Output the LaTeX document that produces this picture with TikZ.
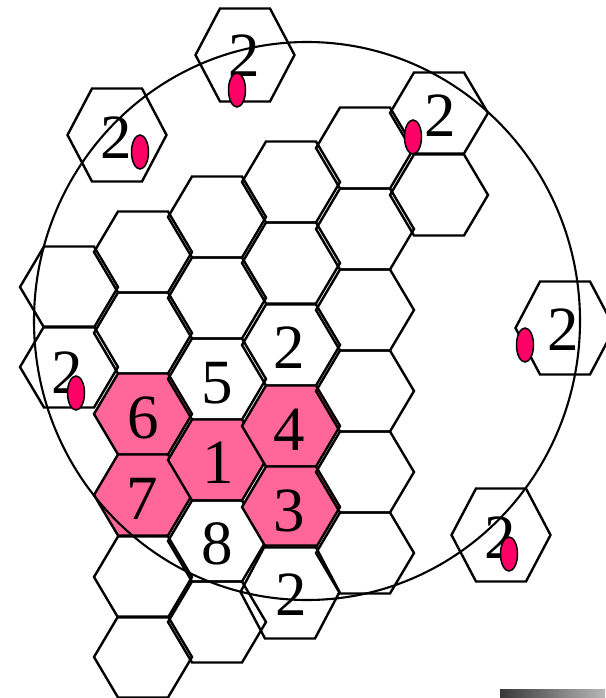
\documentclass[tikz,border=0pt]{standalone}
\usepackage{fontspec}
\setmainfont{Liberation Serif}
\definecolor{cellpink}{HTML}{FF6699}
\definecolor{dotred}{HTML}{FF0066}
\tikzset{
  hexline/.style={draw=black,line width=2.4pt,line join=miter},
  pinkcell/.style={fill=cellpink},
  ringline/.style={draw=black,line width=2.1pt},
  num/.style={inner sep=0pt,font=\fontsize{63}{63}\selectfont},
  reddot/.style={draw=black,line width=1.5pt,fill=dotred,ellipse,minimum width=17pt,minimum height=34pt,inner sep=0pt},
}
\usetikzlibrary{shapes.geometric}
\newcommand\hexg[3][]{\path[hexline,shift={(#2,#3)},#1] (-49,0) -- (-25,-40.5) -- (25,-40.5) -- (49,0) -- (25,40.5) -- (-25,40.5) -- cycle;}
\newcommand\hext[3][]{\path[hexline,shift={(#2,#3)},#1] (-49.5,0) -- (-25,-46.5) -- (25,-46.5) -- (49.5,0) -- (25,46.5) -- (-25,46.5) -- cycle;}
\begin{document}
\begin{tikzpicture}[x=1pt,y=-1pt]
\useasboundingbox (0,0) rectangle (605,698);
% column Z
\hexg{69}{287}
\hexg{69}{367}
% column A
\hexg{143}{252}
\hexg{143}{333}
\hexg[pinkcell]{143}{414}
\hexg[pinkcell]{143}{495}
\hexg{143}{577}
\hexg{143}{657}
% column B
\hexg{217}{217}
\hexg{217}{298}
\hexg{217}{379}
\hexg[pinkcell]{217}{460}
\hexg{217}{541}
\hexg{217}{622}
% column C
\hexg{291}{182}
\hexg{291}{263}
\hexg{291}{345}
\hexg[pinkcell]{291}{426}
\hexg[pinkcell]{291}{507}
\hext{290}{592}
% column D
\hexg{365}{148}
\hexg{365}{229}
\hexg{365}{310}
\hexg{365}{391}
\hexg{365}{472}
\hexg{365}{553}
% column E
\hexg{439}{113}
\hexg{439}{195}
% isolated cells
\hext{245}{55}
\hext{117}{135}
\hext{565}{328}
\hext{501}{535}
% ring
\draw[ringline] (307,321) ellipse [x radius=273, y radius=279];
% numbers
\node[num] (n6) at (143,418) {6};
\node[num] (n1) at (218,463) {1};
\node[num] (n7) at (142,499) {7};
\node[num] (n5) at (217,383) {5};
\node[num] (n8) at (217,544) {8};
\node[num] (n4) at (289,430) {4};
\node[num] (n3) at (289,511) {3};
\node[num] (c2a) at (289,348) {2};
\node[num] (c2b) at (291,595) {2};
\node[num] (t2) at (244,56) {2};
\node[num] (ul2) at (116,138) {2};
\node[num] (tr2) at (440,116) {2};
\node[num] (r2) at (563,330) {2};
\node[num] (lr2) at (500,538) {2};
\node[num] (l2) at (67,373) {2};
% red dots
\node[reddot] (d1) at (237,90) {};
\node[reddot] (d2) at (140,152) {};
\node[reddot] (d3) at (413,137) {};
\node[reddot] (d4) at (525,345) {};
\node[reddot] (d5) at (509,554) {};
\node[reddot] (d6) at (76,393) {};
% grey bar
\shade[left color=black!78,right color=black!28] (500,689) rectangle (605,698);
\end{tikzpicture}
\end{document}
